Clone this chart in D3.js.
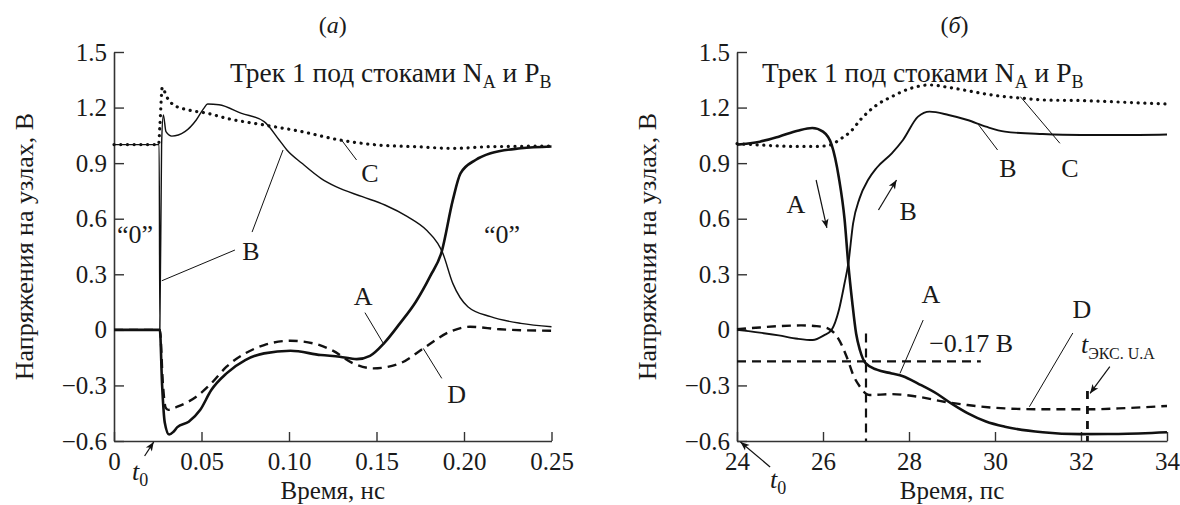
<!DOCTYPE html>
<html>
<head>
<meta charset="utf-8">
<script src="https://cdn.jsdelivr.net/npm/d3@7"></script>
<style>
  body { margin: 0; background: #fff; }
  text { font-family: "Liberation Serif", "Times New Roman", serif; fill: #1a1a1a; }
</style>
</head>
<body>
<svg id="chart" width="1180" height="505"></svg>
<script>
// axis ticks
var nsTicks = [0, 0.05, 0.10, 0.15, 0.20, 0.25];
var nsLabels = ["0", "0.05", "0.10", "0.15", "0.20", "0.25"];
var psTicks = [24, 26, 28, 30, 32, 34];
var vTicks = [-0.6, -0.3, 0, 0.3, 0.6, 0.9, 1.2, 1.5];
var vLabels = ["\u22120.6", "\u22120.3", "0", "0.3", "0.6", "0.9", "1.2", "1.5"];

// panel (а): [time, ns ; voltage, V]
var nsA = [[0,0],[0.0262,0],[0.0275,-0.3],[0.029,-0.5],[0.0315,-0.565],[0.034,-0.55],[0.0362,-0.525],[0.0427,-0.496],[0.0492,-0.433],[0.0556,-0.325],[0.0643,-0.235],[0.075,-0.163],[0.0858,-0.127],[0.1009,-0.113],[0.1182,-0.136],[0.129,-0.145],[0.1387,-0.158],[0.1463,-0.14],[0.1545,-0.07],[0.1634,0.035],[0.1725,0.152],[0.1807,0.29],[0.1872,0.42],[0.1936,0.70],[0.198,0.845],[0.2066,0.917],[0.2152,0.953],[0.2325,0.98],[0.25,0.99]];
var nsB = [[0,1.0],[0.0258,1.0],[0.0262,0.0],[0.0272,1.0],[0.0282,1.16],[0.0297,1.07],[0.033,1.046],[0.0405,1.07],[0.047,1.133],[0.0513,1.196],[0.0535,1.219],[0.06,1.215],[0.0729,1.169],[0.0858,1.124],[0.0944,1.025],[0.0988,0.971],[0.1074,0.899],[0.1182,0.818],[0.1268,0.773],[0.1419,0.719],[0.1548,0.674],[0.1677,0.611],[0.1785,0.539],[0.185,0.467],[0.1876,0.42],[0.1936,0.251],[0.2022,0.125],[0.2152,0.071],[0.2325,0.035],[0.25,0.017]];
var nsC = [[0,1.0],[0.0255,1.0],[0.0262,1.1],[0.0276,1.309],[0.03,1.26],[0.0341,1.214],[0.0427,1.187],[0.0535,1.169],[0.0643,1.142],[0.0858,1.106],[0.1074,1.07],[0.129,1.025],[0.1505,0.998],[0.1721,0.989],[0.1936,0.98],[0.2152,0.989],[0.25,0.992]];
var nsD = [[0,0],[0.0262,0],[0.028,-0.3],[0.0295,-0.42],[0.031,-0.432],[0.0362,-0.415],[0.047,-0.361],[0.0556,-0.289],[0.0643,-0.199],[0.075,-0.127],[0.0858,-0.082],[0.1009,-0.059],[0.1139,-0.073],[0.125,-0.112],[0.1367,-0.181],[0.1482,-0.208],[0.1634,-0.181],[0.1768,-0.1],[0.192,-0.01],[0.2034,0.017],[0.2206,0.003],[0.25,-0.005]];

// panel (б): [time, ps ; voltage, V]
var psA = [[24,1.0],[24.53,1.016],[24.97,1.043],[25.41,1.075],[25.75,1.09],[26.0,1.07],[26.2,1.0],[26.37,0.82],[26.5,0.6],[26.59,0.35],[26.68,0.15],[26.77,-0.02],[26.86,-0.11],[26.99,-0.18],[27.25,-0.215],[27.6,-0.235],[27.86,-0.25],[28.21,-0.29],[28.65,-0.345],[29.0,-0.4],[29.36,-0.45],[29.79,-0.495],[30.23,-0.523],[31.11,-0.553],[31.99,-0.563],[32.87,-0.562],[34,-0.553]];
var psB = [[24,0],[24.53,-0.015],[24.97,-0.03],[25.41,-0.048],[25.76,-0.055],[26.02,-0.03],[26.2,0.0],[26.37,0.107],[26.5,0.25],[26.59,0.36],[26.7,0.575],[26.85,0.71],[27.05,0.81],[27.25,0.875],[27.6,0.953],[27.86,1.025],[28.21,1.151],[28.48,1.178],[28.92,1.16],[29.36,1.133],[29.79,1.097],[30.23,1.07],[31.11,1.057],[31.99,1.052],[32.87,1.052],[34,1.055]];
var psC = [[24,1.005],[24.53,0.998],[24.97,0.993],[25.41,0.99],[25.85,0.99],[26.2,1.0],[26.37,1.025],[26.64,1.07],[26.9,1.142],[27.25,1.214],[27.6,1.259],[28.04,1.304],[28.48,1.322],[28.92,1.309],[29.36,1.291],[29.79,1.273],[30.23,1.259],[30.67,1.25],[31.11,1.241],[31.99,1.238],[32.87,1.23],[34,1.219]];
var psD = [[24,0.004],[24.53,0.013],[24.97,0.02],[25.5,0.024],[25.85,0.02],[26.11,0.008],[26.33,-0.037],[26.55,-0.145],[26.72,-0.253],[26.86,-0.307],[26.99,-0.343],[27.08,-0.352],[27.6,-0.347],[28.21,-0.361],[28.82,-0.388],[29.36,-0.406],[30.23,-0.424],[31.11,-0.429],[32.19,-0.429],[32.87,-0.424],[34,-0.411]];

var svg = d3.select("#chart");
var FS = 26;

var y = d3.scaleLinear().domain([-0.6, 1.5]).range([441, 52]);
var xL = d3.scaleLinear().domain([0, 0.25]).range([114, 551.5]);
var xR = d3.scaleLinear().domain([24, 34]).range([737, 1167]);

svg.append("defs").append("marker")
    .attr("id", "arr")
    .attr("viewBox", "0 0 10 10")
    .attr("refX", 10).attr("refY", 5)
    .attr("markerWidth", 11).attr("markerHeight", 9)
    .attr("markerUnits", "userSpaceOnUse")
    .attr("orient", "auto")
    .append("path").attr("d", "M0,1 L10,5 L0,9 L2.5,5 Z").attr("fill", "#111");

function drawAxes(x, ticks, labels, yTitleX, xTitle) {
    var gx = svg.append("g")
        .attr("transform", "translate(0," + y(-0.6) + ")")
        .call(d3.axisBottom(x).tickValues(ticks)
            .tickFormat(function(d, i) { return labels ? labels[i] : d; })
            .tickSize(-9).tickSizeOuter(0).tickPadding(11));
    var gy = svg.append("g")
        .attr("transform", "translate(" + x.range()[0] + ",0)")
        .call(d3.axisLeft(y).tickValues(vTicks)
            .tickFormat(function(d, i) { return vLabels[i]; })
            .tickSize(-10).tickSizeOuter(0).tickPadding(7));
    [gx, gy].forEach(function(g) {
        g.attr("font-size", 25).attr("font-family", "Liberation Serif");
        g.select(".domain").attr("stroke", "#333").attr("stroke-width", 1.6);
        g.selectAll(".tick line").attr("stroke", "#333").attr("stroke-width", 1.4);
        g.selectAll(".tick text").attr("fill", "#1a1a1a");
    });

    var mid = (x.range()[0] + x.range()[1]) / 2;
    svg.append("text").attr("x", mid).attr("y", 499)
        .attr("text-anchor", "middle").attr("font-size", 25).text(xTitle);
    svg.append("text")
        .attr("transform", "translate(" + yTitleX + "," + (y(0.45)) + ") rotate(-90)")
        .attr("text-anchor", "middle").attr("font-size", FS)
        .text("Напряжения на узлах, В");
}

function drawSeries(x, data, width, dash) {
    var line = d3.line()
        .x(function(d) { return x(d[0]); })
        .y(function(d) { return y(d[1]); })
        .curve(d3.curveMonotoneX);
    var p = svg.append("path").datum(data)
        .attr("d", line)
        .attr("fill", "none")
        .attr("stroke", "#111")
        .attr("stroke-width", width)
        .attr("stroke-linejoin", "round");
    if (dash === "dot") {
        p.attr("stroke-dasharray", "0.1 6.6").attr("stroke-linecap", "round");
    } else if (dash) {
        p.attr("stroke-dasharray", dash);
    }
}

function guide(x, a, b, w, dash, arrow) {
    var l = svg.append("line")
        .attr("x1", x(a[0])).attr("y1", y(a[1]))
        .attr("x2", x(b[0])).attr("y2", y(b[1]))
        .attr("stroke", "#111").attr("stroke-width", w || 1);
    if (dash) l.attr("stroke-dasharray", dash);
    if (arrow) l.attr("marker-end", "url(#arr)");
}

function label(x, p, parts, anchor, size) {
    var t = svg.append("text")
        .attr("x", x(p[0])).attr("y", y(p[1]))
        .attr("text-anchor", anchor || "middle")
        .attr("font-size", size || FS);
    if (typeof parts === "string") { t.text(parts); return t; }
    var shift = 0;
    parts.forEach(function(q) {
        var s = t.append("tspan").text(q.t);
        var dy = (q.sub ? 6 : 0) - shift;
        if (dy) s.attr("dy", dy);
        shift = q.sub ? 6 : 0;
        if (q.sub) s.attr("font-size", q.size || 18);
        if (q.it) s.attr("font-style", "italic");
    });
    return t;
}

var track = [{t: "Трек 1 под стоками N"}, {t: "A", sub: 1}, {t: " и P"}, {t: "B", sub: 1}];

// ---------- panel (а)
drawAxes(xL, nsTicks, nsLabels, 33, "Время, нс");
drawSeries(xL, nsC, 3.2, "dot");
drawSeries(xL, nsD, 2.4, "9 6");
drawSeries(xL, nsB, 1.4);
drawSeries(xL, nsA, 2.6);

label(xL, [0.125, 1.603], [{t: "("}, {t: "a", it: 1}, {t: ")"}], "middle", 24);
label(xL, [0.25, 1.338], track, "end", 27.5);
label(xL, [0.012, 0.469], "\u201C0\u201D");
label(xL, [0.2217, 0.469], "\u201C0\u201D");
label(xL, [0.0783, 0.377], "B");
guide(xL, [0.0691, 0.431], [0.0273, 0.265]);
guide(xL, [0.0789, 0.528], [0.0966, 0.971]);
label(xL, [0.1463, 0.798], "C");
guide(xL, [0.1386, 0.917], [0.13, 1.025]);
label(xL, [0.1423, 0.134], "A");
guide(xL, [0.1434, 0.093], [0.1539, -0.073]);
label(xL, [0.1958, -0.395], "D");
guide(xL, [0.1767, -0.1], [0.1873, -0.262]);
guide(xL, [0.0175, -0.681], [0.0227, -0.605], 1.2, null, true);
label(xL, [0.0103, -0.81], [{t: "t", it: 1}, {t: "0", sub: 1}], "start");

// ---------- panel (б)
drawAxes(xR, psTicks, null, 656, "Время, пс");
guide(xR, [24, -0.17], [29.67, -0.17], 2.2, "9 6");
guide(xR, [27, -0.02], [27, -0.6], 2.2, "9 6");
guide(xR, [32.15, -0.33], [32.15, -0.6], 2.8, "8 7");
drawSeries(xR, psC, 3.2, "dot");
drawSeries(xR, psD, 2.4, "9 6");
drawSeries(xR, psB, 1.9);
drawSeries(xR, psA, 2.6);

label(xR, [29.06, 1.603], [{t: "("}, {t: "б", it: 1}, {t: ")"}], "middle", 24);
label(xR, [24.58, 1.338], track, "start", 27.5);
label(xR, [25.37, 0.631], "A");
guide(xR, [25.84, 0.809], [26.09, 0.55], 1.2, null, true);
label(xR, [27.98, 0.593], "B");
guide(xR, [27.29, 0.647], [27.71, 0.809], 1.2, null, true);
label(xR, [30.3, 0.825], "B");
guide(xR, [30.06, 0.971], [29.62, 1.106]);
label(xR, [31.74, 0.825], "C");
guide(xR, [31.51, 1.007], [30.59, 1.259]);
label(xR, [28.51, 0.145], "A");
guide(xR, [28.33, 0.053], [27.79, -0.235]);
label(xR, [28.47, -0.12], "\u22120.17 В", "start");
label(xR, [32.02, 0.064], "D");
guide(xR, [31.81, -0.017], [30.8, -0.415]);
label(xR, [32.0, -0.125], [{t: "t", it: 1}, {t: "ЭКС. U.A", sub: 1, size: 16}], "start");
guide(xR, [32.67, -0.199], [32.21, -0.343], 1.2, null, true);
guide(xR, [24.77, -0.74], [24.08, -0.605], 1.2, null, true);
label(xR, [24.77, -0.854], [{t: "t", it: 1}, {t: "0", sub: 1}], "start");
</script>
</body>
</html>
